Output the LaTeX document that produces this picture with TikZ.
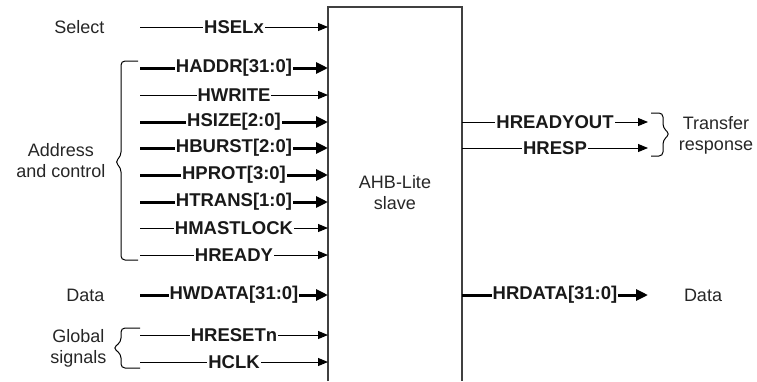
\documentclass[tikz,border=0pt]{standalone}
\usepackage{fontspec}
\setmainfont{Liberation Sans}
\usetikzlibrary{arrows.meta}
\begin{document}
\begin{tikzpicture}[x=1pt,y=-1pt,
  thinsig/.style={line width=1pt,-{Triangle[length=10pt,width=8pt]}},
  thicksig/.style={line width=3pt,-{Triangle[length=12pt,width=11pt]}},
  sig/.style={fill=white,inner xsep=1pt,inner ysep=0pt,font=\fontsize{18.5}{20}\selectfont\bfseries,text=black!90},
  grptext/.style={font=\fontsize{18}{21}\selectfont,text=black!85,align=center},
  grp/.style={grptext,anchor=east},
  bracepath/.style={line width=1pt,line join=round,rounded corners=4pt}]
\useasboundingbox (0,0) rectangle (757,381);
% box
\coordinate (bl) at (328,381);
\coordinate (tl) at (328,7);
\coordinate (tr) at (462,7);
\coordinate (br) at (462,381);
\draw[line width=1.3pt,black!75] (bl) -- (tl) -- (tr) -- (br);
\node[grptext] (slave) at (395,193) {AHB-Lite\\slave};
% inputs
\foreach \nm/\y/\st/\txt in {
  hsel/27/thinsig/HSELx,
  haddr/68/thicksig/HADDR[31:0],
  hwrite/95/thinsig/HWRITE,
  hsize/122/thicksig/HSIZE[2:0],
  hburst/148/thicksig/HBURST[2:0],
  hprot/175/thicksig/HPROT[3:0],
  htrans/202/thicksig/HTRANS[1:0],
  hlock/228/thinsig/HMASTLOCK,
  hready/255/thinsig/HREADY,
  hwdata/295/thicksig/HWDATA[31:0],
  hreset/335/thinsig/HRESETn,
  hclk/362/thinsig/HCLK}{
  \coordinate (\nm-s) at (140,\y);
  \coordinate (\nm-e) at (328,\y);
  \draw[\st] (\nm-s) -- node[sig] (\nm) {\txt} (\nm-e);
}
% outputs
\foreach \nm/\y/\st/\txt in {
  hro/122/thinsig/HREADYOUT,
  hresp/148/thinsig/HRESP,
  hrdata/295/thicksig/HRDATA[31:0]}{
  \coordinate (\nm-s) at (462,\y);
  \coordinate (\nm-e) at (648,\y);
  \draw[\st] (\nm-s) -- node[sig] (\nm) {\txt} (\nm-e);
}
% group labels
\node[grp] (select) at (108,27) {Select};
\node[grp] (addr) at (109,161) {Address\\and control};
\node[grp] (datain) at (108,295) {Data};
\node[grp] (global) at (110,348) {Global\\signals};
\node[grptext] (tresp) at (716,135) {Transfer\\response};
\node[grptext] (dataout) at (703,295) {Data};
% braces
\coordinate (b1t) at (138,61);
\coordinate (b1b) at (138,260);
\coordinate (b1m) at (115,162);
\draw[bracepath] (b1t) -- (121,61) -- (121,156) -- (b1m) -- (121,168) -- (121,260) -- (b1b);
\coordinate (b2t) at (140,328);
\coordinate (b2b) at (140,368);
\coordinate (b2m) at (113,348);
\draw[bracepath] (b2t) -- (121,328) -- (121,342) -- (b2m) -- (121,354) -- (121,368) -- (b2b);
\coordinate (b3t) at (651,113);
\coordinate (b3b) at (651,156);
\coordinate (b3m) at (670,134);
\draw[bracepath] (b3t) -- (663,113) -- (663,128) -- (b3m) -- (663,140) -- (663,156) -- (b3b);
\end{tikzpicture}
\end{document}
